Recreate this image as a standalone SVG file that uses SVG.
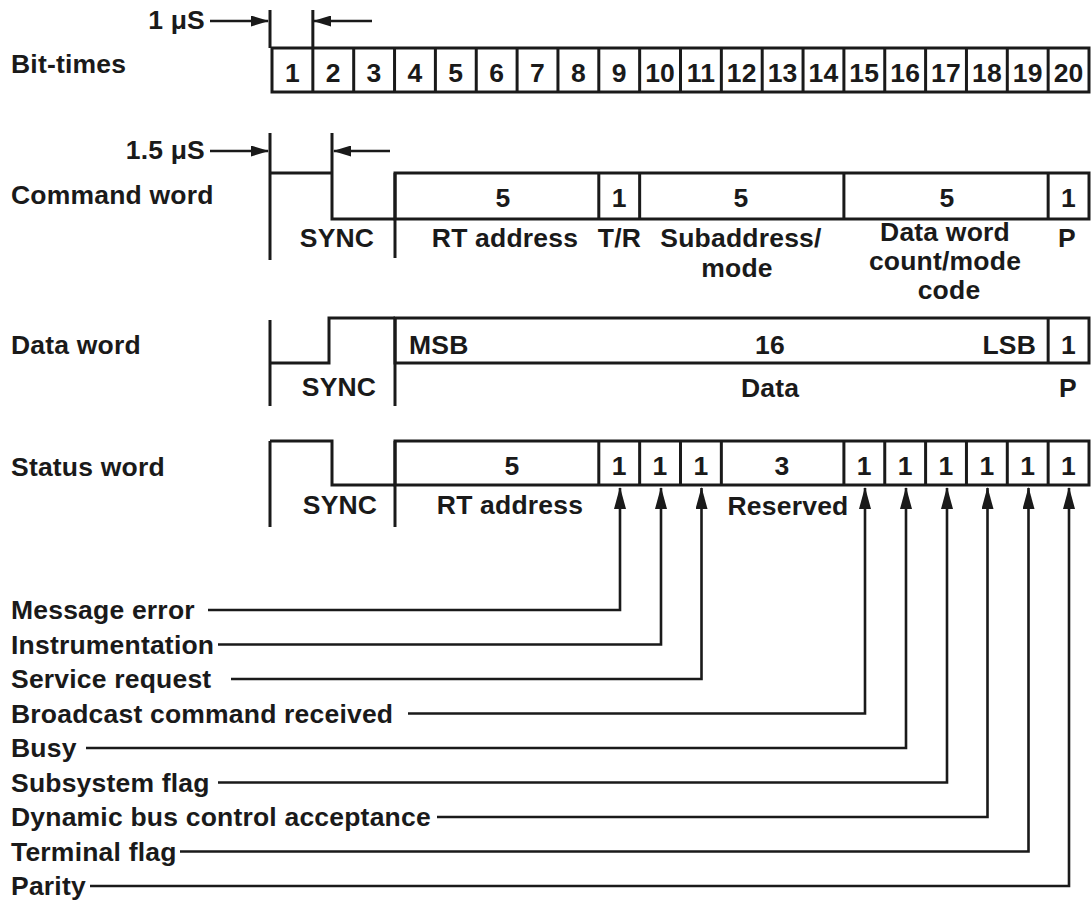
<svg xmlns="http://www.w3.org/2000/svg" width="1092" height="901" viewBox="0 0 1092 901">
<defs>
<style>
text{font-family:"Liberation Sans",Arial,Helvetica,sans-serif;font-weight:bold;font-size:26.5px;letter-spacing:0.2px;fill:#1a1a1a}
.m{text-anchor:middle}
.e{text-anchor:end}
.box{fill:none;stroke:#1a1a1a;stroke-width:3}
.ln{fill:none;stroke:#1a1a1a;stroke-width:3}
.cn{fill:none;stroke:#1a1a1a;stroke-width:2.6}
</style>
<marker id="ah" viewBox="0 0 22 12" refX="21" refY="6" markerWidth="22" markerHeight="12" markerUnits="userSpaceOnUse" orient="auto">
<path d="M0,0 L22,6 L0,12 Z" fill="#1a1a1a"/>
</marker>
<marker id="th" viewBox="0 0 18 11" refX="17" refY="5.5" markerWidth="18" markerHeight="11" markerUnits="userSpaceOnUse" orient="auto">
<path d="M0,0 L18,5.5 L0,11 Z" fill="#1a1a1a"/>
</marker>
</defs>
<rect width="1092" height="901" fill="#ffffff"/>

<g id="bit-times">
<text x="11" y="73">Bit-times</text>
<text x="205" y="29" class="e">1 μS</text>
<rect class="box" x="272" y="48" width="817" height="44"/>
<path class="ln" d="M312.85,48V92M353.7,48V92M394.55,48V92M435.4,48V92M476.25,48V92M517.1,48V92M557.95,48V92M598.8,48V92M639.65,48V92M680.5,48V92M721.35,48V92M762.2,48V92M803.05,48V92M843.9,48V92M884.75,48V92M925.6,48V92M966.45,48V92M1007.3,48V92M1048.15,48V92"/>
<path class="ln" d="M270,10V48M312.85,10V48"/>
<g class="m">
<text x="292.4" y="82">1</text><text x="333.3" y="82">2</text><text x="374.1" y="82">3</text><text x="415" y="82">4</text><text x="455.8" y="82">5</text><text x="496.7" y="82">6</text><text x="537.5" y="82">7</text><text x="578.4" y="82">8</text><text x="619.2" y="82">9</text><text x="660.1" y="82">10</text><text x="700.9" y="82">11</text><text x="741.8" y="82">12</text><text x="782.6" y="82">13</text><text x="823.5" y="82">14</text><text x="864.3" y="82">15</text><text x="905.2" y="82">16</text><text x="946" y="82">17</text><text x="986.9" y="82">18</text><text x="1027.7" y="82">19</text><text x="1068.6" y="82">20</text>
</g>
</g>

<g id="command-word">
<text x="11" y="204">Command word</text>
<text x="205" y="159" class="e">1.5 μS</text>
<path class="ln" d="M270,133V260M332,133V219M270,173H332V219H395M395,173V258"/>
<rect class="box" x="395" y="173" width="694" height="46"/>
<path class="ln" d="M598.8,173V219M639.65,173V219M843.9,173V219M1048.15,173V219"/>
<g class="m">
<text x="503" y="207">5</text>
<text x="619.2" y="207">1</text>
<text x="741" y="207">5</text>
<text x="947" y="207">5</text>
<text x="1068.6" y="207">1</text>
<text x="337" y="247">SYNC</text>
<text x="505" y="247">RT address</text>
<text x="619.5" y="247">T/R</text>
<text x="741" y="247">Subaddress/</text>
<text x="737" y="277">mode</text>
<text x="945" y="241">Data word</text>
<text x="945" y="270">count/mode</text>
<text x="949" y="299">code</text>
<text x="1067" y="247">P</text>
</g>
</g>

<g id="data-word">
<text x="11" y="354">Data word</text>
<path class="ln" d="M270,320V406M270,363H329V318H395M395,318V406"/>
<rect class="box" x="395" y="318" width="694" height="45"/>
<path class="ln" d="M1048.15,318V363"/>
<text x="409" y="354">MSB</text>
<g class="m">
<text x="770" y="354">16</text>
<text x="1068.6" y="354">1</text>
<text x="339" y="396">SYNC</text>
<text x="770" y="397">Data</text>
<text x="1068" y="397">P</text>
</g>
<text x="1036" y="354" class="e">LSB</text>
</g>

<g id="status-word">
<text x="11" y="476">Status word</text>
<path class="ln" d="M270,441V527M270,441H332V485H395M395,441V527"/>
<rect class="box" x="395" y="441" width="694" height="44"/>
<path class="ln" d="M598.8,441V485M639.65,441V485M680.5,441V485M721.35,441V485M843.9,441V485M884.75,441V485M925.6,441V485M966.45,441V485M1007.3,441V485M1048.15,441V485"/>
<g class="m">
<text x="512" y="475">5</text>
<text x="619.2" y="475">1</text>
<text x="660.1" y="475">1</text>
<text x="700.9" y="475">1</text>
<text x="782" y="475">3</text>
<text x="864.3" y="475">1</text>
<text x="905.2" y="475">1</text>
<text x="946" y="475">1</text>
<text x="986.9" y="475">1</text>
<text x="1027.7" y="475">1</text>
<text x="1068.6" y="475">1</text>
<text x="340" y="514">SYNC</text>
<text x="510" y="514">RT address</text>
<text x="788" y="515">Reserved</text>
</g>
</g>

<g id="status-bit-labels">
<text x="11" y="619">Message error</text>
<text x="11" y="653.5">Instrumentation</text>
<text x="11" y="688">Service request</text>
<text x="11" y="722.5">Broadcast command received</text>
<text x="11" y="757">Busy</text>
<text x="11" y="791.5">Subsystem flag</text>
<text x="11" y="826">Dynamic bus control acceptance</text>
<text x="11" y="860.5">Terminal flag</text>
<text x="11" y="895">Parity</text>
</g>

<g id="connectors">
<path class="cn" d="M210,21H268" marker-end="url(#th)"/>
<path class="cn" d="M372,21H314" marker-end="url(#th)"/>
<path class="cn" d="M210,151H268" marker-end="url(#th)"/>
<path class="cn" d="M390,151H334" marker-end="url(#th)"/>
<path class="cn" d="M208,610H620V488" marker-end="url(#ah)"/>
<path class="cn" d="M218,644.5H661V488" marker-end="url(#ah)"/>
<path class="cn" d="M231,679H701.5V488" marker-end="url(#ah)"/>
<path class="cn" d="M408,713.5H865V488" marker-end="url(#ah)"/>
<path class="cn" d="M86,748H906V488" marker-end="url(#ah)"/>
<path class="cn" d="M218,782.5H947V488" marker-end="url(#ah)"/>
<path class="cn" d="M437,817H987.5V488" marker-end="url(#ah)"/>
<path class="cn" d="M180,851.5H1028.5V488" marker-end="url(#ah)"/>
<path class="cn" d="M90,886H1069V488" marker-end="url(#ah)"/>
</g>
</svg>
